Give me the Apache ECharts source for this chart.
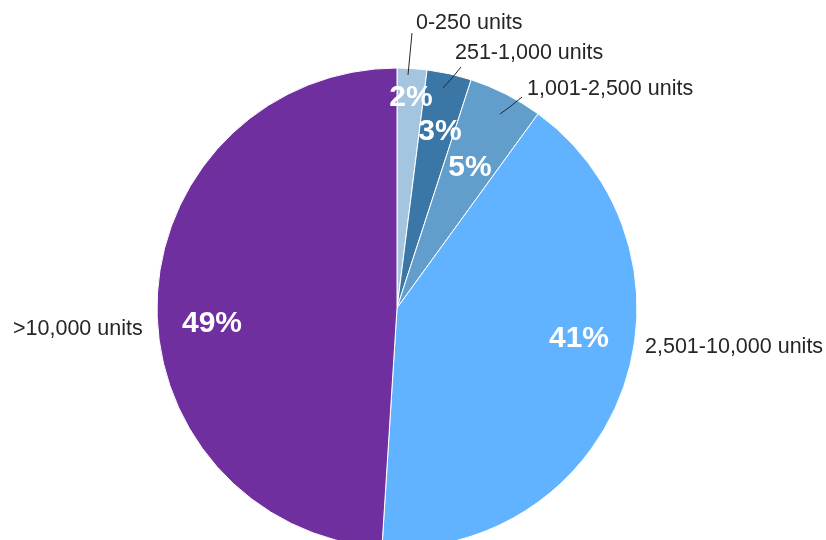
<!DOCTYPE html>
<html><head><meta charset="utf-8">
<script src="https://cdn.jsdelivr.net/npm/echarts@6/dist/echarts.min.js"></script>
<style>html,body{margin:0;padding:0;background:#fff}#c{width:826px;height:540px}</style>
</head><body><div id="c"></div>
<script>
const categories = ['0-250 units', '251-1,000 units', '1,001-2,500 units', '2,501-10,000 units', '>10,000 units'];
const values = [2, 3, 5, 41, 49];
const colors = ['#a4c5e0', '#3b77a6', '#629ecb', '#62b3ff', '#6f2f9e'];

// label layout (positions only)
const nameLabelPos = [[416, 23], [455, 53], [527, 89], [645, 347], [13, 329]];
const nameLinePts = [[[408, 75], [410, 54], [412, 33]], [[443, 88], [452, 78], [461, 67]], [[500, 114], [511, 106], [522, 97]], null, null];
const pctLabelPos = [[411, 98], [440, 132], [470, 168], [579, 339], [212, 324]];

const FONT = "'Liberation Sans', Arial, sans-serif";
const pieData = categories.map((c, i) => ({ name: c, value: values[i], itemStyle: { color: colors[i] } }));

const chart = echarts.init(document.getElementById('c'), null, { renderer: 'canvas' });
chart.setOption({
  animation: false,
  series: [
    {
      type: 'pie', z: 2, center: [397, 308], radius: 240, startAngle: 90, clockwise: true,
      avoidLabelOverlap: false, silent: true,
      itemStyle: { borderColor: '#fff', borderWidth: 1 },
      label: { show: true, position: 'inside', formatter: '{c}%', color: '#fff', fontSize: 30, fontWeight: 'bold', fontFamily: FONT },
      labelLine: { show: false },
      labelLayout: function (p) {
        const i = p.dataIndex;
        return { x: pctLabelPos[i][0], y: pctLabelPos[i][1], align: 'center', verticalAlign: 'middle' };
      },
      data: pieData
    },
    {
      type: 'pie', z: 3, center: [397, 308], radius: 240, startAngle: 90, clockwise: true,
      avoidLabelOverlap: false, silent: true,
      itemStyle: { color: 'rgba(0,0,0,0)', borderWidth: 0 },
      label: { show: true, position: 'outside', formatter: '{b}', color: '#262626', fontSize: 21.5, fontFamily: FONT },
      labelLine: { show: true, lineStyle: { color: '#262626', width: 1 } },
      labelLayout: function (p) {
        const i = p.dataIndex;
        const r = { x: nameLabelPos[i][0], y: nameLabelPos[i][1], align: 'left', verticalAlign: 'middle' };
        r.labelLinePoints = nameLinePts[i] || [[0, 0], [0, 0], [0, 0]];
        return r;
      },
      data: categories.map((c, i) => ({
        name: c, value: values[i],
        itemStyle: { color: 'rgba(0,0,0,0)' },
        labelLine: { show: !!nameLinePts[i] }
      }))
    }
  ]
});
</script></body></html>
